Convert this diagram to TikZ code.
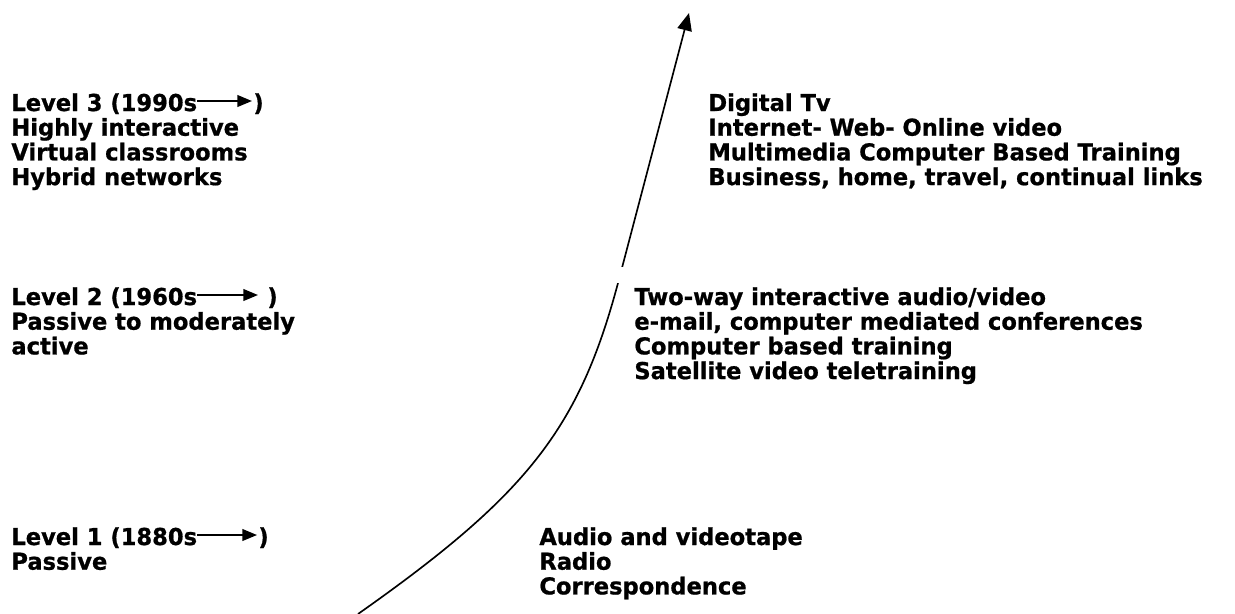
\documentclass[tikz,border=0pt]{standalone}
\usepackage{fontspec}
\setmainfont{DejaVu Sans}[BoldFeatures={FakeStretch=0.97,FakeBold=0.8}]
\usetikzlibrary{arrows.meta,calc}
\begin{document}
\begin{tikzpicture}[x=0.515pt,y=-0.515pt,
  txt/.style={inner sep=0pt, anchor=base west, font=\fontsize{12}{14}\selectfont\bfseries},
  curvearrow/.style={line width=0.85pt, -{Triangle[length=9pt,width=7.5pt]}},
  smallarrow/.style={line width=0.9pt, -{Triangle[length=7.5pt,width=6pt]}}]
\useasboundingbox (0,0) rectangle (1235,613);

% main growth curve
\coordinate (cs) at (358,614);
\coordinate (cm) at (618,283);
\coordinate (ce) at (689,13);
\draw[curvearrow] (cs) .. controls (527,495) and (579,429) .. (cm) -- (ce);
\fill[white] (612,267) rectangle (632,283);

% Level 3
\node[txt] (l3a) at (11,111) {Level 3 (1990s};
\node[txt] (l3p) at (253,111) {)};
\node[txt] (l3b) at (11,135.7) {Highly interactive};
\node[txt] (l3c) at (11,160.4) {Virtual classrooms};
\node[txt] (l3d) at (11,185.1) {Hybrid networks};
\draw[smallarrow] ($(l3a.base east)+(0,-10)$) -- ($(l3p.base west)+(-1,-10)$);

\node[txt] (r3a) at (708,111) {Digital Tv};
\node[txt] (r3b) at (708,135.7) {Internet- Web- Online video};
\node[txt] (r3c) at (708,160.4) {Multimedia Computer Based Training};
\node[txt] (r3d) at (708,185.1) {Business, home, travel, continual links};

% Level 2
\node[txt] (l2a) at (11,305) {Level 2 (1960s};
\node[txt] (l2p) at (267,305) {)};
\node[txt] (l2b) at (11,329.7) {Passive to moderately};
\node[txt] (l2c) at (11,354.4) {active};
\draw[smallarrow] ($(l2a.base east)+(0,-10)$) -- ($(l2p.base west)+(-9,-10)$);

\node[txt] (r2a) at (634,305) {Two-way interactive audio/video};
\node[txt] (r2b) at (634,329.7) {e-mail, computer mediated conferences};
\node[txt] (r2c) at (634,354.4) {Computer based training};
\node[txt] (r2d) at (634,379.1) {Satellite video teletraining};

% Level 1
\node[txt] (l1a) at (11,545) {Level 1 (1880s};
\node[txt] (l1p) at (258,545) {)};
\node[txt] (l1b) at (11,569.7) {Passive};
\draw[smallarrow] ($(l1a.base east)+(0,-10)$) -- ($(l1p.base west)+(-1,-10)$);

\node[txt] (r1a) at (539,545) {Audio and videotape};
\node[txt] (r1b) at (539,569.7) {Radio};
\node[txt] (r1c) at (539,594.4) {Correspondence};
\end{tikzpicture}
\end{document}
